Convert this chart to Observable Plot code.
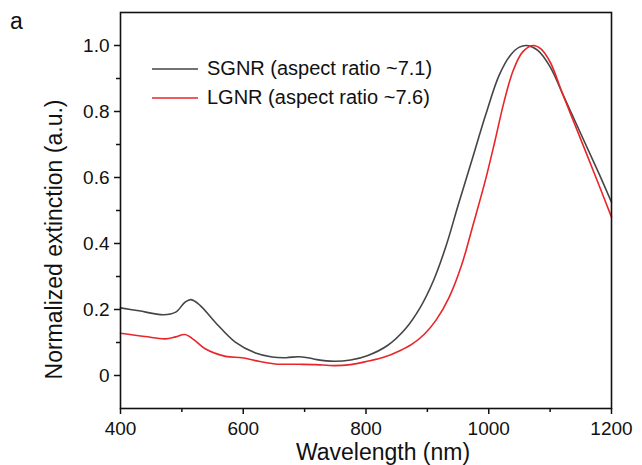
<!DOCTYPE html>
<html><head><meta charset="utf-8">
<script src="https://cdn.jsdelivr.net/npm/d3@7"></script>
<script src="https://cdn.jsdelivr.net/npm/@observablehq/plot@0.6"></script>
<style>
body{margin:0;background:#fff;font-family:"Liberation Sans",Arial,sans-serif;}
#wrap{position:relative;width:642px;height:465px;overflow:hidden;}
#wrap svg{display:block;}
.panel{position:absolute;left:10px;top:8px;font-size:23px;color:#111;}
.legend{position:absolute;left:152px;top:54px;font-size:20px;color:#111;line-height:29px;}
.legend div{display:flex;align-items:center;white-space:nowrap;}
.legend svg{margin-right:9px;}
</style></head><body><div id="wrap"></div>
<script>
const seriesNames = ["SGNR (aspect ratio ~7.1)", "LGNR (aspect ratio ~7.6)"];
const seriesColors = ["#454545", "#e8262a"];

const sgnrWavelength = [400,430,470,490,505,515,530,555,587,620,647,670,690,705,720,748,775,802,835,864,888,910,930,950,973,995,1017,1035,1050,1062,1080,1100,1120,1155,1180,1200];
const sgnrValue      = [0.205,0.196,0.184,0.192,0.222,0.230,0.212,0.160,0.101,0.068,0.056,0.054,0.057,0.054,0.048,0.043,0.047,0.060,0.091,0.141,0.205,0.288,0.390,0.515,0.655,0.790,0.910,0.970,0.995,1.0,0.985,0.935,0.855,0.712,0.610,0.525];

const lgnrWavelength = [400,440,473,490,505,520,538,571,598,620,652,690,718,748,775,802,830,856,875,895,915,935,955,975,995,1010,1025,1040,1055,1072,1085,1100,1120,1155,1180,1200];
const lgnrValue      = [0.128,0.118,0.111,0.117,0.124,0.108,0.081,0.058,0.054,0.045,0.035,0.034,0.033,0.030,0.033,0.043,0.056,0.076,0.095,0.125,0.170,0.235,0.330,0.460,0.595,0.710,0.830,0.925,0.980,1.0,0.990,0.950,0.855,0.692,0.575,0.480];

const xMajorTicks = [400,600,800,1000,1200];
const xMinorTicks = [500,700,900,1100];
const yMajorTicks = [0,0.2,0.4,0.6,0.8,1.0];
const yTickLabels = ["0","0.2","0.4","0.6","0.8","1.0"];
const yMinorTicks = [0.1,0.3,0.5,0.7,0.9];
const xLabel = "Wavelength (nm)";
const yLabel = "Normalized extinction (a.u.)";

const data = [
  ...sgnrWavelength.map((w,i)=>({w, v:sgnrValue[i], series:seriesNames[0]})),
  ...lgnrWavelength.map((w,i)=>({w, v:lgnrValue[i], series:seriesNames[1]}))
];

const chart = Plot.plot({
  width:642, height:465,
  marginLeft:120, marginRight:31, marginTop:12, marginBottom:57,
  style:{fontFamily:"'Liberation Sans', Arial, sans-serif", fontSize:"19px", color:"#111", background:"#fff", overflow:"visible"},
  x:{domain:[400,1200]},
  y:{domain:[-0.1,1.1]},
  color:{domain:seriesNames, range:seriesColors},
  marks:[
    Plot.axisX({ticks:xMajorTicks, tickSize:6, tickPadding:7, label:null, tickFormat:d=>String(d), strokeWidth:1.5, stroke:"#111", fill:"#111"}),
    Plot.axisX({ticks:xMinorTicks, tickSize:4, text:null, label:null, strokeWidth:1.5, stroke:"#111"}),
    Plot.axisY({ticks:yMajorTicks, tickSize:6, tickPadding:5, label:null, tickFormat:(d,i)=>yTickLabels[i], strokeWidth:1.5, stroke:"#111", fill:"#111"}),
    Plot.axisY({ticks:yMinorTicks, tickSize:4, text:null, label:null, strokeWidth:1.5, stroke:"#111"}),
    Plot.line(data, {x:"w", y:"v", stroke:"series", curve:"catmull-rom", strokeWidth:1.6}),
    Plot.frame({stroke:"#111", strokeWidth:1.6}),
    Plot.text([xLabel], {text:d=>d, frameAnchor:"bottom", lineAnchor:"middle", textAnchor:"middle", dx:17, dy:44, fontSize:23, fill:"#111"}),
    Plot.text([yLabel], {text:d=>d, frameAnchor:"left", textAnchor:"middle", lineAnchor:"middle", rotate:-90, dx:-66, dy:29, fontSize:23, fill:"#111"})
  ]
});

const wrap = document.getElementById("wrap");
wrap.appendChild(chart);

const panel = document.createElement("div");
panel.className = "panel";
panel.textContent = "a";
wrap.appendChild(panel);

const legend = document.createElement("div");
legend.className = "legend";
seriesNames.forEach((name,i)=>{
  const row = document.createElement("div");
  row.innerHTML = `<svg width="46" height="4"><line x1="0" x2="46" y1="2" y2="2" stroke="${seriesColors[i]}" stroke-width="1.6"/></svg><span>${name}</span>`;
  legend.appendChild(row);
});
wrap.appendChild(legend);
</script>
</body></html>
